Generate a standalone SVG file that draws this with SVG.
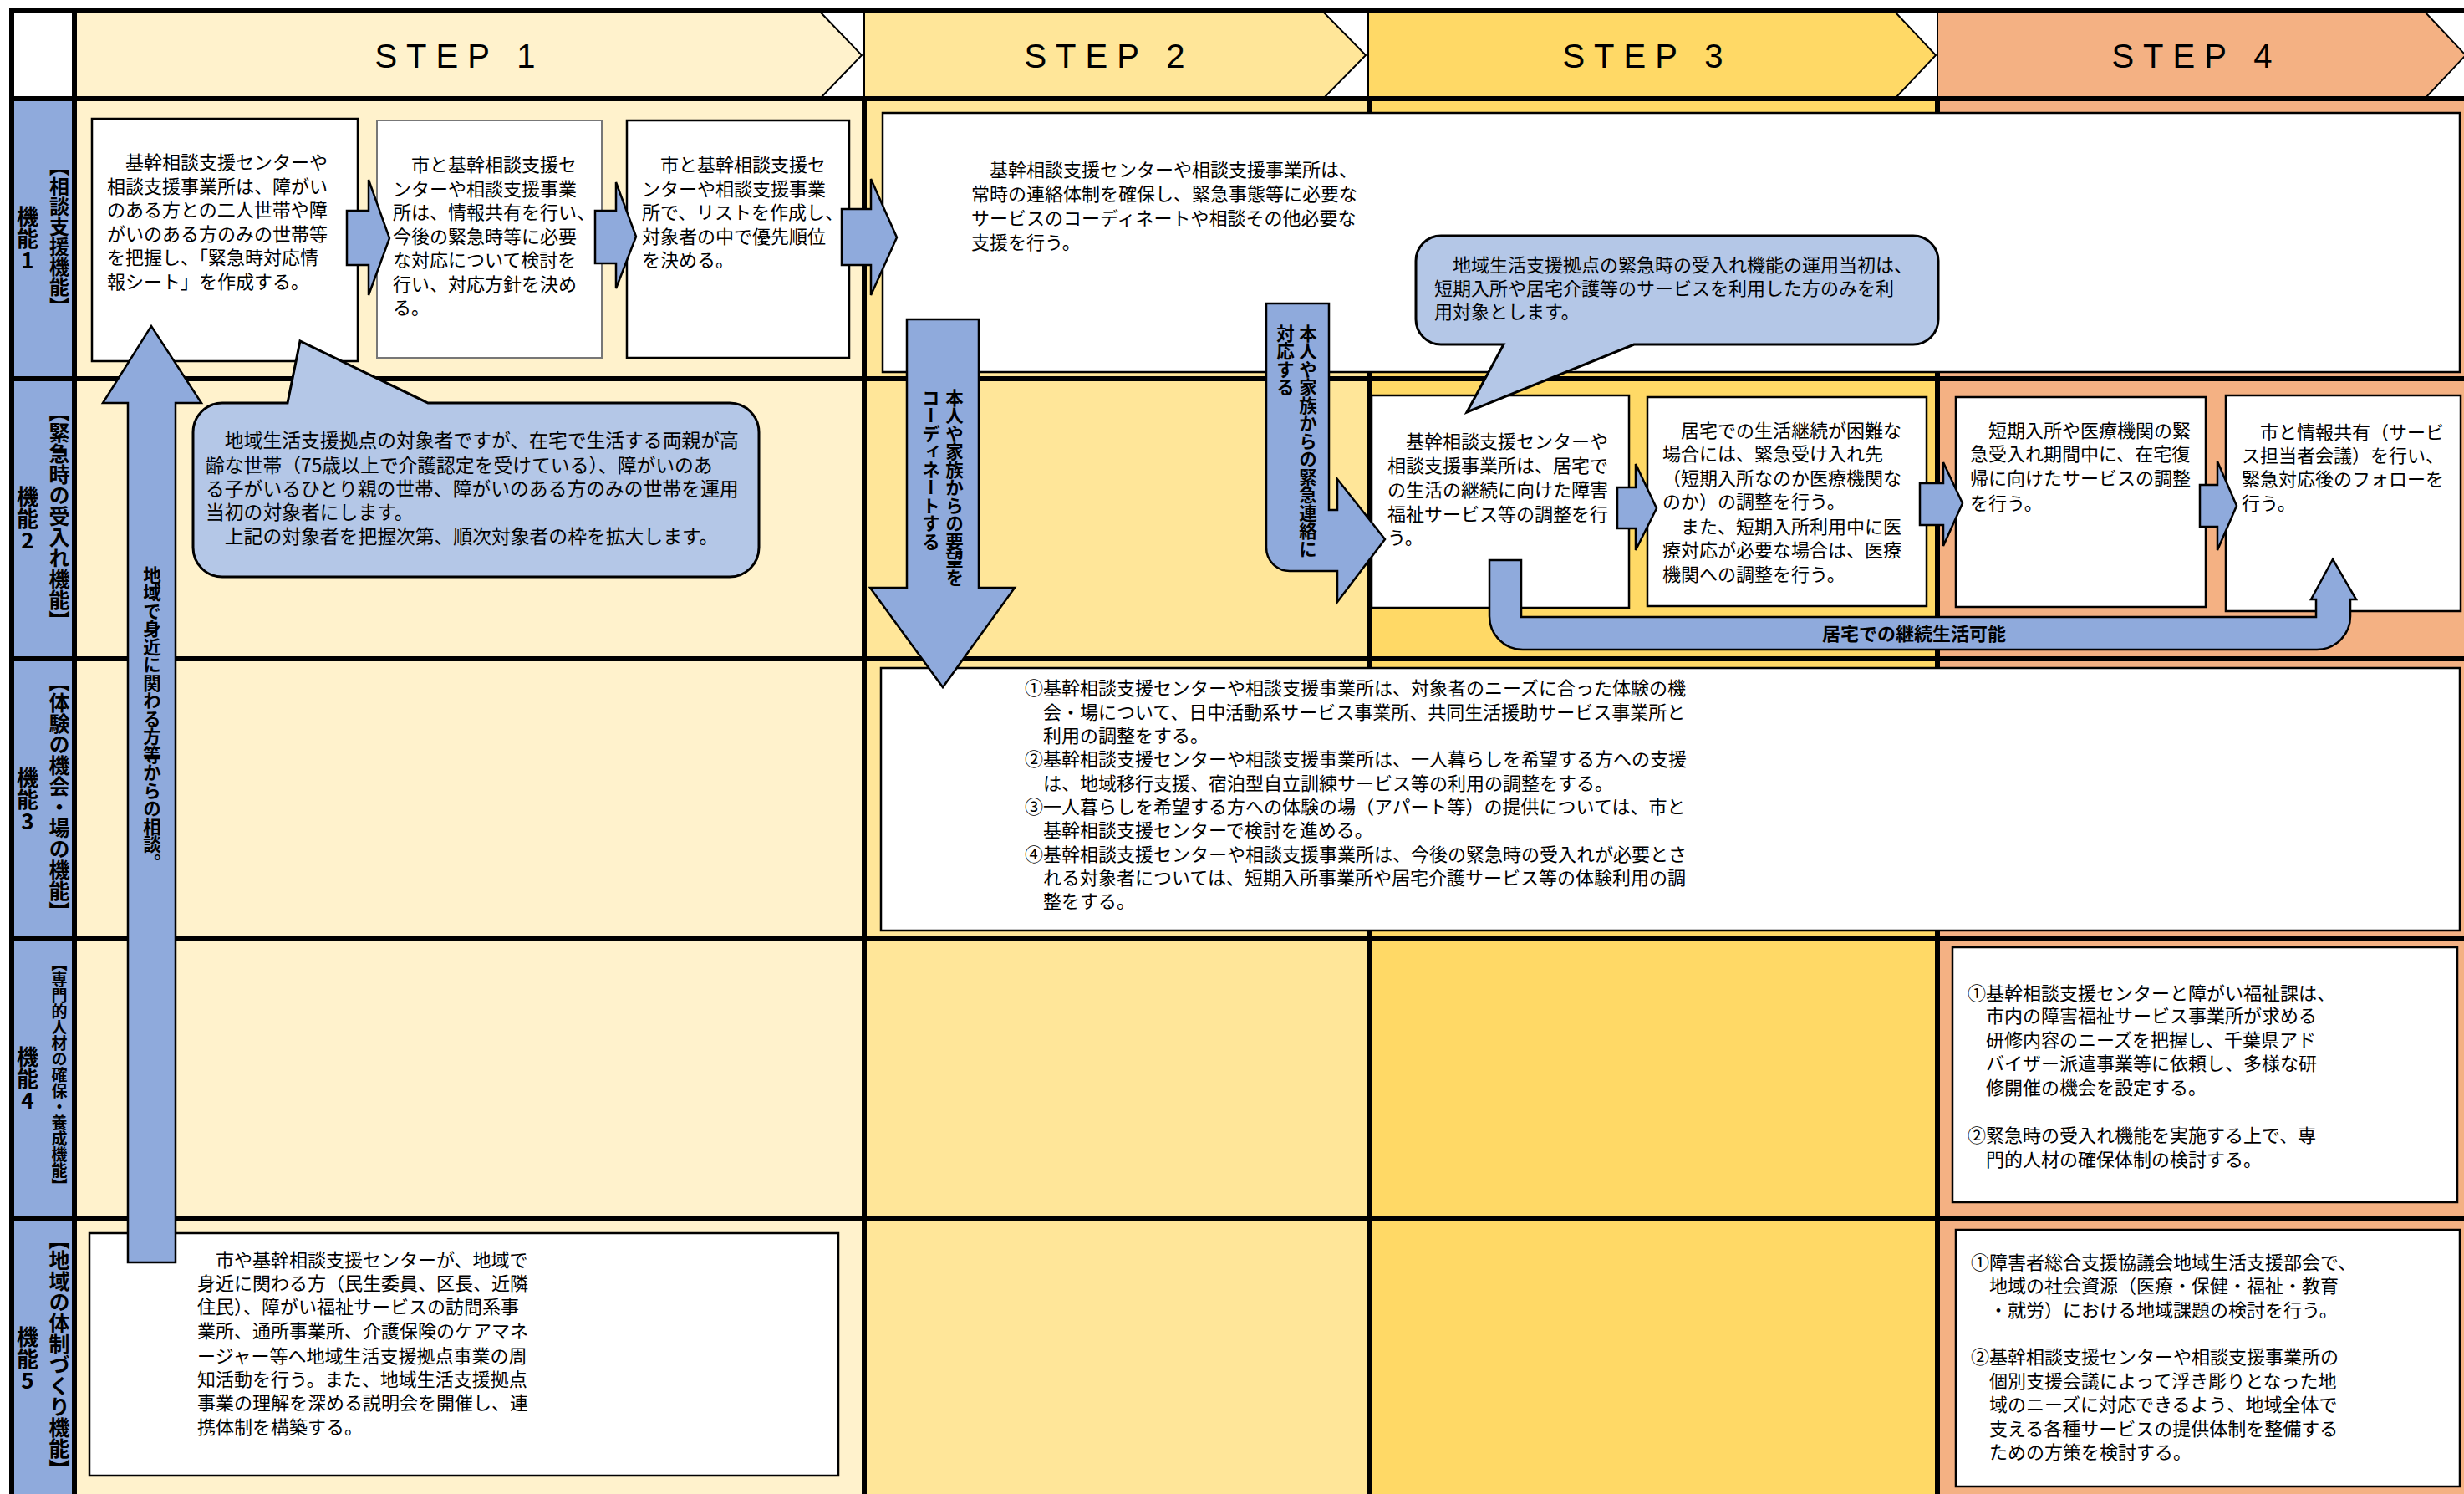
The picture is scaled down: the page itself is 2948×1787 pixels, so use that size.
<svg xmlns="http://www.w3.org/2000/svg" width="2948" height="1787" viewBox="0 0 2948 1787">
<style>
.t{font-family:"Noto Sans CJK JP","Noto Sans CJK SC",sans-serif;font-size:22px;fill:#000}
.big{font-size:22.8px}
.lbl{font-family:"Noto Sans CJK JP","Noto Sans CJK SC",sans-serif;font-weight:bold;fill:#000;writing-mode:vertical-rl;text-orientation:upright}
.vt{font-family:"Noto Sans CJK JP","Noto Sans CJK SC",sans-serif;font-weight:bold;font-size:21.5px;fill:#000;writing-mode:vertical-rl}
.step{font-family:"Liberation Sans",Arial,sans-serif;font-size:40px;letter-spacing:11px;fill:#000;text-anchor:middle}
.box{fill:#fff;stroke:#000;stroke-width:2.5}
.arr{fill:#8FAADC;stroke:#000;stroke-width:2.5;stroke-linejoin:miter}
.call{fill:#B4C7E7;stroke:#000;stroke-width:3}
.chev{stroke:#000;stroke-width:2}
.g{stroke:#000;stroke-width:6;fill:none}
</style>
<rect x="0" y="0" width="2948" height="1787" fill="#fff"/>
<g id="backgrounds">
<rect x="89" y="118" width="945" height="1669" fill="#FFF2CC"/>
<rect x="1034" y="118" width="604" height="1669" fill="#FFE699"/>
<rect x="1638" y="118" width="680" height="1669" fill="#FFD966"/>
<rect x="2318" y="118" width="630" height="1669" fill="#F4B183"/>
<rect x="14" y="118" width="75" height="1669" fill="#8FAADC"/>
</g>
<g id="header">
<polygon class="chev" fill="#FFF2CC" points="89,15 982,15 1031,66 982,117 89,117"/>
<polygon class="chev" fill="#FFE699" points="1034,15 1584,15 1634,66 1584,117 1034,117"/>
<polygon class="chev" fill="#FFD966" points="1637,15 2268,15 2316,66 2268,117 1637,117"/>
<polygon class="chev" fill="#F4B183" points="2318,15 2902,15 2950,66 2902,117 2318,117"/>
<text class="step" x="550" y="81">STEP 1</text>
<text class="step" x="1327" y="81">STEP 2</text>
<text class="step" x="1971" y="81">STEP 3</text>
<text class="step" x="2628" y="81">STEP 4</text>
</g>
<g id="grid">
<line class="g" x1="11" y1="13" x2="2948" y2="13"/>
<line class="g" x1="11" y1="118" x2="2948" y2="118"/>
<line class="g" x1="11" y1="453" x2="2948" y2="453"/>
<line class="g" x1="11" y1="788" x2="2948" y2="788"/>
<line class="g" x1="11" y1="1122" x2="2948" y2="1122"/>
<line class="g" x1="11" y1="1457" x2="2948" y2="1457"/>
<line class="g" x1="14" y1="10" x2="14" y2="1787"/>
<line class="g" x1="89" y1="10" x2="89" y2="1787"/>
<line class="g" x1="1034" y1="118" x2="1034" y2="1787"/>
<line class="g" x1="1638" y1="118" x2="1638" y2="1787"/>
<line class="g" x1="2318" y1="118" x2="2318" y2="1787"/>
</g>
<g id="row-labels">
<text class="lbl" x="33" y="285" font-size="26" text-anchor="middle">機能1</text>
<text class="lbl" x="71" y="283" font-size="24" text-anchor="middle">【相談支援機能】</text>
<text class="lbl" x="33" y="620" font-size="26" text-anchor="middle">機能2</text>
<text class="lbl" x="71" y="617" font-size="25" text-anchor="middle">【緊急時の受入れ機能】</text>
<text class="lbl" x="33" y="956" font-size="26" text-anchor="middle">機能3</text>
<text class="lbl" x="71" y="953" font-size="25" text-anchor="middle">【体験の機会・場の機能】</text>
<text class="lbl" x="33" y="1290" font-size="26" text-anchor="middle">機能4</text>
<text class="lbl" x="71" y="1286" font-size="19" text-anchor="middle">【専門的人材の確保・養成機能】</text>
<text class="lbl" x="33" y="1625" font-size="26" text-anchor="middle">機能5</text>
<text class="lbl" x="71" y="1620" font-size="25" text-anchor="middle">【地域の体制づくり機能】</text>
</g>
<g id="node-r1-s1-a">
<rect class="box" x="110" y="142" width="318" height="290"/>
<text class="t"><tspan x="128" y="202">　基幹相談支援センターや</tspan><tspan x="128" y="230.6">相談支援事業所は、障がい</tspan><tspan x="128" y="259.2">のある方との二人世帯や障</tspan><tspan x="128" y="287.8">がいのある方のみの世帯等</tspan><tspan x="128" y="316.4">を把握し、「緊急時対応情</tspan><tspan x="128" y="345">報シート」を作成する。</tspan></text>
</g>
<g id="node-r1-s1-b">
<rect class="box" x="451" y="144" width="269" height="284" style="stroke:#777;stroke-width:2"/>
<text class="t"><tspan x="470" y="205">　市と基幹相談支援セ</tspan><tspan x="470" y="233.5">ンターや相談支援事業</tspan><tspan x="470" y="262">所は、情報共有を行い、</tspan><tspan x="470" y="290.5">今後の緊急時等に必要</tspan><tspan x="470" y="319">な対応について検討を</tspan><tspan x="470" y="347.5">行い、対応方針を決め</tspan><tspan x="470" y="376">る。</tspan></text>
</g>
<g id="node-r1-s1-c">
<rect class="box" x="750" y="144" width="266" height="284"/>
<text class="t"><tspan x="768" y="205">　市と基幹相談支援セ</tspan><tspan x="768" y="233.5">ンターや相談支援事業</tspan><tspan x="768" y="262">所で、リストを作成し、</tspan><tspan x="768" y="290.5">対象者の中で優先順位</tspan><tspan x="768" y="319">を決める。</tspan></text>
</g>
<g id="node-r1-s2">
<rect class="box" x="1056" y="135" width="1887" height="310"/>
<text class="t"><tspan x="1162" y="211">　基幹相談支援センターや相談支援事業所は、</tspan><tspan x="1162" y="240">常時の連絡体制を確保し、緊急事態等に必要な</tspan><tspan x="1162" y="269">サービスのコーディネートや相談その他必要な</tspan><tspan x="1162" y="298">支援を行う。</tspan></text>
</g>
<g id="node-r2-s3-a">
<rect class="box" x="1641" y="473" width="308" height="254"/>
<text class="t"><tspan x="1660" y="536">　基幹相談支援センターや</tspan><tspan x="1660" y="565">相談支援事業所は、居宅で</tspan><tspan x="1660" y="594">の生活の継続に向けた障害</tspan><tspan x="1660" y="623">福祉サービス等の調整を行</tspan><tspan x="1660" y="651">う。</tspan></text>
</g>
<g id="node-r2-s3-b">
<rect class="box" x="1971" y="475" width="334" height="250"/>
<text class="t"><tspan x="1989" y="523">　居宅での生活継続が困難な</tspan><tspan x="1989" y="551">場合には、緊急受け入れ先</tspan><tspan x="1989" y="580">（短期入所なのか医療機関な</tspan><tspan x="1989" y="608">のか）の調整を行う。</tspan><tspan x="1989" y="638">　また、短期入所利用中に医</tspan><tspan x="1989" y="666">療対応が必要な場合は、医療</tspan><tspan x="1989" y="695">機関への調整を行う。</tspan></text>
</g>
<g id="node-r2-s4-a">
<rect class="box" x="2340" y="475" width="299" height="251"/>
<text class="t"><tspan x="2357" y="523">　短期入所や医療機関の緊</tspan><tspan x="2357" y="551">急受入れ期間中に、在宅復</tspan><tspan x="2357" y="580">帰に向けたサービスの調整</tspan><tspan x="2357" y="610">を行う。</tspan></text>
</g>
<g id="node-r2-s4-b">
<rect class="box" x="2663" y="473" width="281" height="258"/>
<text class="t"><tspan x="2682" y="525">　市と情報共有（サービ</tspan><tspan x="2682" y="553">ス担当者会議）を行い、</tspan><tspan x="2682" y="581">緊急対応後のフォローを</tspan><tspan x="2682" y="610">行う。</tspan></text>
</g>
<g id="node-r3">
<rect class="box" x="1054" y="799" width="1889" height="314"/>
<text class="t"><tspan x="1226" y="831">①基幹相談支援センターや相談支援事業所は、対象者のニーズに合った体験の機</tspan><tspan x="1248" y="860">会・場について、日中活動系サービス事業所、共同生活援助サービス事業所と</tspan><tspan x="1248" y="888">利用の調整をする。</tspan><tspan x="1226" y="916">②基幹相談支援センターや相談支援事業所は、一人暮らしを希望する方への支援</tspan><tspan x="1248" y="945">は、地域移行支援、宿泊型自立訓練サービス等の利用の調整をする。</tspan><tspan x="1226" y="973">③一人暮らしを希望する方への体験の場（アパート等）の提供については、市と</tspan><tspan x="1248" y="1001">基幹相談支援センターで検討を進める。</tspan><tspan x="1226" y="1030">④基幹相談支援センターや相談支援事業所は、今後の緊急時の受入れが必要とさ</tspan><tspan x="1248" y="1058">れる対象者については、短期入所事業所や居宅介護サービス等の体験利用の調</tspan><tspan x="1248" y="1086">整をする。</tspan></text>
</g>
<g id="node-r4">
<rect class="box" x="2336" y="1133" width="604" height="305"/>
<text class="t"><tspan x="2354" y="1196">①基幹相談支援センターと障がい福祉課は、</tspan><tspan x="2376" y="1223">市内の障害福祉サービス事業所が求める</tspan><tspan x="2376" y="1252">研修内容のニーズを把握し、千葉県アド</tspan><tspan x="2376" y="1280">バイザー派遣事業等に依頼し、多様な研</tspan><tspan x="2376" y="1309">修開催の機会を設定する。</tspan><tspan x="2354" y="1366">②緊急時の受入れ機能を実施する上で、専</tspan><tspan x="2376" y="1395">門的人材の確保体制の検討する。</tspan></text>
</g>
<g id="node-r5-s1">
<rect class="box" x="107" y="1475" width="896" height="290"/>
<text class="t"><tspan x="236" y="1515">　市や基幹相談支援センターが、地域で</tspan><tspan x="236" y="1543">身近に関わる方（民生委員、区長、近隣</tspan><tspan x="236" y="1571">住民）、障がい福祉サービスの訪問系事</tspan><tspan x="236" y="1600">業所、通所事業所、介護保険のケアマネ</tspan><tspan x="236" y="1630">ージャー等へ地域生活支援拠点事業の周</tspan><tspan x="236" y="1658">知活動を行う。また、地域生活支援拠点</tspan><tspan x="236" y="1686">事業の理解を深める説明会を開催し、連</tspan><tspan x="236" y="1715">携体制を構築する。</tspan></text>
</g>
<g id="node-r5-s4">
<rect class="box" x="2340" y="1471" width="603" height="307"/>
<text class="t"><tspan x="2358" y="1518">①障害者総合支援協議会地域生活支援部会で、</tspan><tspan x="2380" y="1546">地域の社会資源（医療・保健・福祉・教育</tspan><tspan x="2380" y="1575">・就労）における地域課題の検討を行う。</tspan><tspan x="2358" y="1631">②基幹相談支援センターや相談支援事業所の</tspan><tspan x="2380" y="1660">個別支援会議によって浮き彫りとなった地</tspan><tspan x="2380" y="1688">域のニーズに対応できるよう、地域全体で</tspan><tspan x="2380" y="1717">支える各種サービスの提供体制を整備する</tspan><tspan x="2380" y="1745">ための方策を検討する。</tspan></text>
</g>
<g id="callout-1">
<path class="call" d="M266,482 H344 L359,408 L512,482 H873 A35,35 0 0 1 908,517 V655 A35,35 0 0 1 873,690 H266 A35,35 0 0 1 231,655 V517 A35,35 0 0 1 266,482 Z"/>
<text class="t big"><tspan x="246" y="535">　地域生活支援拠点の対象者ですが、在宅で生活する両親が高</tspan><tspan x="246" y="565">齢な世帯（75歳以上で介護認定を受けている）、障がいのあ</tspan><tspan x="246" y="593">る子がいるひとり親の世帯、障がいのある方のみの世帯を運用</tspan><tspan x="246" y="621">当初の対象者にします。</tspan><tspan x="246" y="650">　上記の対象者を把握次第、順次対象者の枠を拡大します。</tspan></text>
</g>
<g id="callout-2">
<path class="call" d="M1724,282 H2289 A30,30 0 0 1 2319,312 V382 A30,30 0 0 1 2289,412 H1955 L1755,493 L1799,412 H1724 A30,30 0 0 1 1694,382 V312 A30,30 0 0 1 1724,282 Z"/>
<text class="t"><tspan x="1716" y="325">　地域生活支援拠点の緊急時の受入れ機能の運用当初は、</tspan><tspan x="1716" y="353">短期入所や居宅介護等のサービスを利用した方のみを利</tspan><tspan x="1716" y="381">用対象とします。</tspan></text>
</g>
<g id="connectors">
<path class="arr" d="M415,252 H441 V215 L466,285 L441,353 V317 H415 Z"/>
<path class="arr" d="M712,252 H737 V218 L761,283 L737,345 V315 H712 Z"/>
<path class="arr" d="M1007,250 H1042 V214 L1073,284 L1042,353 V317 H1007 Z"/>
<path class="arr" d="M1935,583 H1957 V555 L1982,608 L1957,658 V632 H1935 Z"/>
<path class="arr" d="M2297,578 H2325 V553 L2348,602 L2325,653 V628 H2297 Z"/>
<path class="arr" d="M2632,580 H2653 V552 L2676,605 L2653,658 V630 H2632 Z"/>
<path class="arr" d="M153,1510 V482 H123 L181,390 L241,482 H210 V1510 Z"/>
<text class="vt" x="182" y="677">地域で身近に関わる方等からの相談。</text>
<path class="arr" d="M1085,382 H1171 V703 H1214 L1128,822 L1041,703 H1085 Z"/>
<text class="vt" x="1142" y="465">本人や家族からの要望を</text>
<text class="vt" x="1114" y="465">コーディネートする</text>
<path class="arr" d="M1515,363 H1590 V610 H1600 V573 L1657,645 L1600,720 V683 H1543 A28,28 0 0 1 1515,655 Z"/>
<text class="vt" x="1565" y="388">本人や家族からの緊急連絡に</text>
<text class="vt" x="1538" y="388">対応する</text>
<path class="arr" d="M1782,670 H1820 V738 H2771 V717 H2765 L2791,669 L2819,717 H2812 V737 A40,40 0 0 1 2772,777 H1822 A40,40 0 0 1 1782,737 Z"/>
<text class="t" x="2290" y="766" text-anchor="middle" font-weight="bold">居宅での継続生活可能</text>
</g>
</svg>
